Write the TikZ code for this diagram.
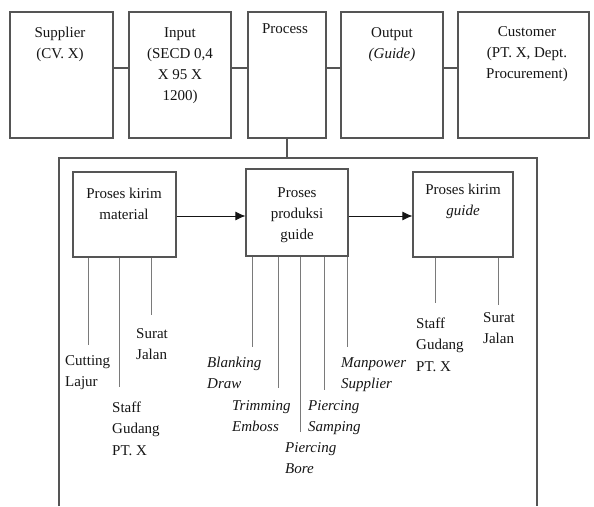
\documentclass[tikz,border=0pt]{standalone}
\usepackage{fontspec}
\setmainfont{Liberation Serif}
\usetikzlibrary{arrows.meta}
\definecolor{boxc}{HTML}{555555}
\definecolor{linec}{HTML}{7A7A7A}
\definecolor{txtc}{HTML}{151515}
\begin{document}
\begin{tikzpicture}[x=1pt,y=-1pt,
  box/.style={draw=boxc, line width=1.1pt, inner sep=0pt},
  conn/.style={draw=boxc, line width=1.1pt},
  arr/.style={draw=txtc, line width=1pt, -{Latex[length=10pt,width=9pt]}},
  leg/.style={draw=linec, line width=0.9pt},
  txt/.style={font=\fontsize{15}{21}\selectfont, align=center, anchor=base, inner sep=0pt, text=txtc},
  lbl/.style={font=\fontsize{15}{21.5}\selectfont, align=left, anchor=base west, inner sep=0pt, text=txtc},
  ilbl/.style={lbl, font=\fontsize{15}{21.5}\selectfont\itshape}]
\useasboundingbox (0,0) rectangle (594,506);

% top row
\node[box, minimum width=103pt, minimum height=126pt] (sup) at (61.5,75) {};
\node[box, minimum width=102pt, minimum height=126pt] (inp) at (180,75) {};
\node[box, minimum width=78pt, minimum height=126pt] (proc) at (287,75) {};
\node[box, minimum width=102pt, minimum height=126pt] (out) at (392,75) {};
\node[box, minimum width=131pt, minimum height=126pt] (cus) at (523.5,75) {};

% (multi-line texts: the base anchor is the baseline of the last line)
\node[txt] (tsup) at (60,58) {Supplier\\(CV. X)};
\node[txt] (tinp) at (180,100) {Input\\(SECD 0,4\\X 95 X\\1200)};
\node[txt] (tproc) at (285,33) {Process};
\node[txt] (tout) at (392,58) {Output\\\textit{(Guide)}};
\node[txt] (tcus) at (527,78) {Customer\\(PT. X, Dept.\\Procurement)};

\draw[conn] ([yshift=7pt]sup.east) -- ([yshift=7pt]inp.west);
\draw[conn] ([yshift=7pt]inp.east) -- ([yshift=7pt]proc.west);
\draw[conn] ([yshift=7pt]proc.east) -- ([yshift=7pt]out.west);
\draw[conn] ([yshift=7pt]out.east) -- ([yshift=7pt]cus.west);

% big frame
\coordinate (bigTL) at (59,158);
\coordinate (bigTR) at (537,158);
\coordinate (bigBL) at (59,506);
\coordinate (bigBR) at (537,506);
\draw[conn] (bigBL) -- (bigTL) -- (bigTR) -- (bigBR);
\draw[conn] (proc.south) -- (proc.south |- bigTL);

% inner boxes
\node[box, minimum width=103pt, minimum height=85pt] (b1) at (124.5,214.5) {};
\node[box, minimum width=102pt, minimum height=87pt] (b2) at (297,212.5) {};
\node[box, minimum width=100pt, minimum height=85pt] (b3) at (463,214.5) {};

\node[txt] (tb1) at (124,219) {Proses kirim\\material};
\node[txt] (tb2) at (297,239) {Proses\\produksi\\guide};
\node[txt] (tb3) at (463,215) {Proses kirim\\\textit{guide}};

\draw[arr] (b1.east |- 0,216) -- (b2.west |- 0,216);
\draw[arr] (b2.east |- 0,216) -- (b3.west |- 0,216);

% legs of box 1
\coordinate (e11) at (88,345);
\coordinate (e12) at (119,387);
\coordinate (e13) at (151,315);
\draw[leg] (e11 |- b1.south) -- (e11);
\draw[leg] (e12 |- b1.south) -- (e12);
\draw[leg] (e13 |- b1.south) -- (e13);
\node[lbl] (l11) at (65,386.5) {Cutting\\Lajur};
\node[lbl] (l12) at (112,455) {Staff\\Gudang\\PT. X};
\node[lbl] (l13) at (136,359.5) {Surat\\Jalan};

% legs of box 2
\coordinate (e21) at (252,347);
\coordinate (e22) at (278,388);
\coordinate (e23) at (300,432);
\coordinate (e24) at (324,390);
\coordinate (e25) at (347,347);
\draw[leg] (e21 |- b2.south) -- (e21);
\draw[leg] (e22 |- b2.south) -- (e22);
\draw[leg] (e23 |- b2.south) -- (e23);
\draw[leg] (e24 |- b2.south) -- (e24);
\draw[leg] (e25 |- b2.south) -- (e25);
\node[ilbl] (l21) at (207,388.5) {Blanking\\Draw};
\node[ilbl] (l22) at (232,431.5) {Trimming\\Emboss};
\node[ilbl] (l23) at (285,473.5) {Piercing\\Bore};
\node[ilbl] (l24) at (308,431.5) {Piercing\\Samping};
\node[ilbl] (l25) at (341,388.5) {Manpower\\Supplier};

% legs of box 3
\coordinate (e31) at (435,303);
\coordinate (e32) at (498,305);
\draw[leg] (e31 |- b3.south) -- (e31);
\draw[leg] (e32 |- b3.south) -- (e32);
\node[lbl] (l31) at (416,371) {Staff\\Gudang\\PT. X};
\node[lbl] (l32) at (483,343.5) {Surat\\Jalan};
\end{tikzpicture}
\end{document}
